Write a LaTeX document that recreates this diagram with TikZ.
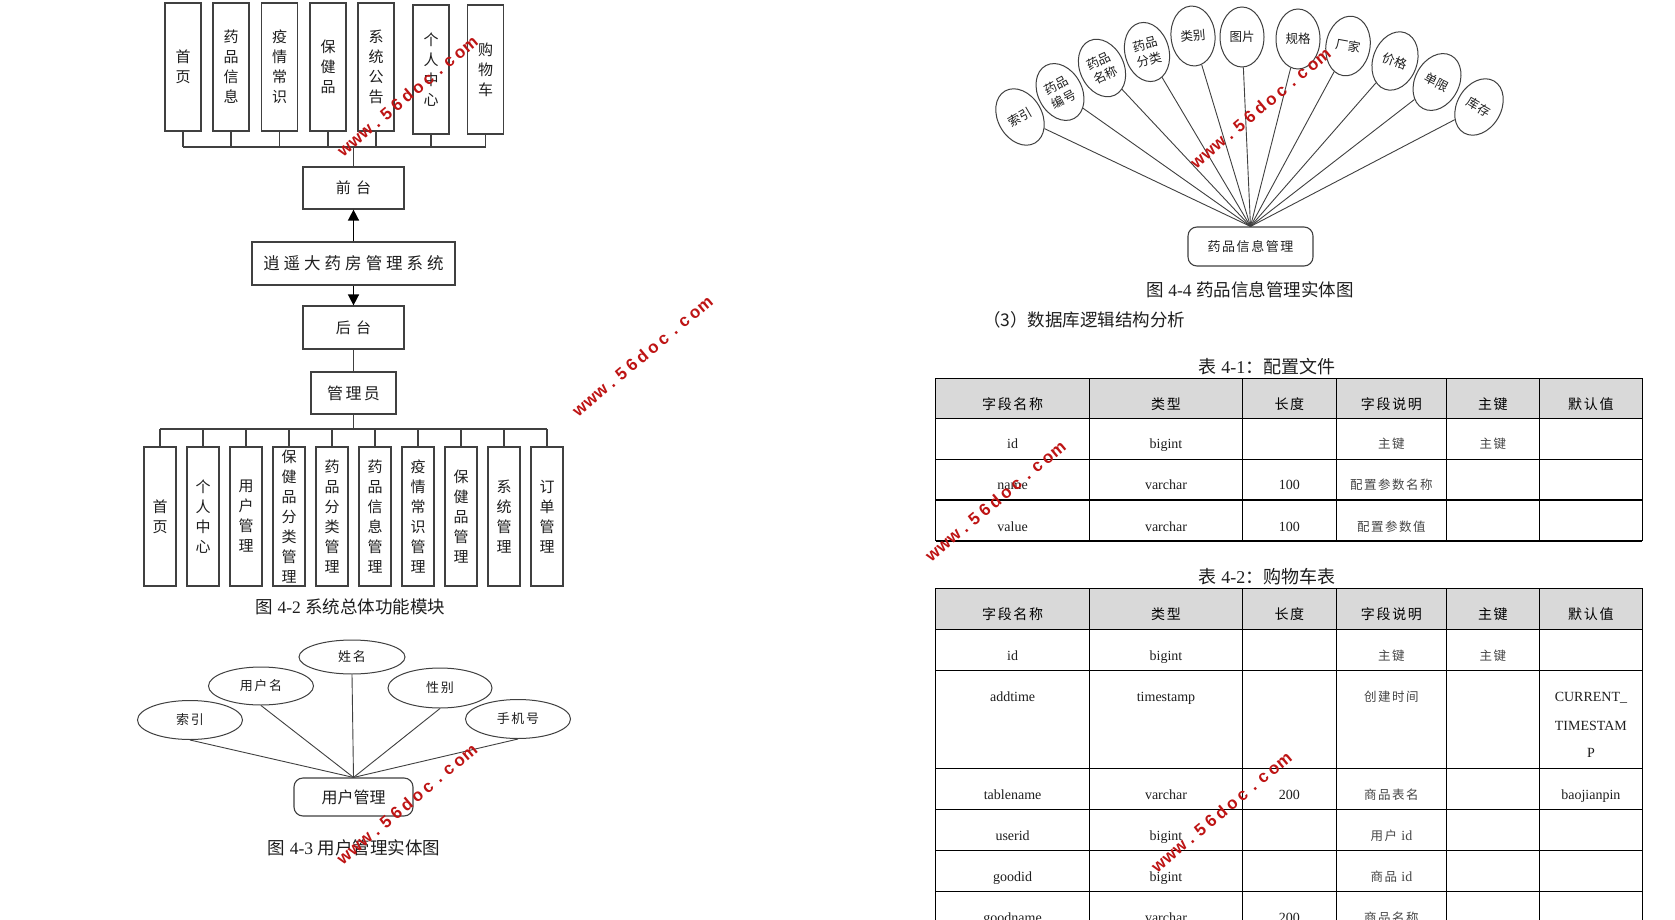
\documentclass[tikz,border=0pt]{standalone}
\usepackage{fontspec}
\setmainfont{Liberation Serif}
\newfontfamily\cjk{Noto Sans CJK SC}
\newfontfamily\cjkls[LetterSpace=12]{Noto Sans CJK SC}
\newfontfamily\cjkwide[LetterSpace=35]{Noto Sans CJK SC}
\newfontfamily\wmfont{Liberation Sans}
\usetikzlibrary{shapes.geometric,arrows.meta}
\definecolor{boxc}{RGB}{64,64,64}
\definecolor{txt}{RGB}{30,30,30}
\definecolor{hdr}{RGB}{217,217,217}
\definecolor{wmred}{RGB}{190,20,20}
\definecolor{celltxt}{RGB}{70,70,70}
\newcommand\fsz[2]{\fontsize{#1}{#2}\selectfont}
\newcommand\wmc[1]{\makebox[13.6pt]{#1}}
\newcommand\wmtext{\wmc{w}\wmc{w}\wmc{w}\wmc{.}\wmc{5}\wmc{6}\wmc{d}\wmc{o}\wmc{c}\wmc{.}\wmc{c}\wmc{o}\wmc{m}}
\begin{document}
\begin{tikzpicture}[x=1pt,y=-1pt,
 vbox/.style={draw=boxc,line width=1.2pt,inner sep=0pt,align=center,text=txt,font=\cjk\fsz{15}{20}},
 hbox/.style={draw=boxc,line width=1.2pt,inner sep=0pt,text=txt,font=\cjkwide\fsz{15}{18}},
 bus/.style={draw=boxc,line width=1.2pt},
 arr/.style={draw=black,line width=1.5pt,-{Triangle[length=11pt,width=11pt]}},
 ell/.style={ellipse,draw=boxc,line width=1pt,inner sep=0pt,text=txt,font=\cjkls\fsz{13}{15}},
 ell2/.style={ellipse,draw=boxc,line width=1pt,inner sep=0pt,minimum width=44pt,minimum height=60pt,align=center,text=txt,font=\cjk\fsz{12.5}{16}},
 rbox/.style={draw=boxc,line width=1.1pt,rounded corners=9pt,inner sep=0pt,text=txt},
 link/.style={draw=boxc,line width=0.9pt},
 figcap/.style={text=txt,font=\fsz{17.5}{20},inner sep=0pt},
 hcell/.style={text=black,font=\cjkls\fsz{14}{16},inner sep=0pt,text height=10pt,text depth=2pt},
 lcell/.style={text=txt,font=\fsz{14}{16},inner sep=0pt,text height=10pt,text depth=2pt},
 ccell/.style={text=celltxt,font=\cjkls\fsz{12.5}{14},inner sep=0pt,text height=10pt,text depth=2pt},
 tline/.style={draw=black,line width=1.3pt},
 wm/.style={text=wmred,font=\wmfont\bfseries\fsz{17}{17},rotate=40,inner sep=0pt}
]
\fill[white] (0,0) rectangle (1675,920);
\useasboundingbox (0,0) rectangle (1675,920);

% ---------- Fig 4-2 top row ----------
\node[vbox,minimum width=36pt,minimum height=128pt] (t1) at (183,67) {首\\页};
\node[vbox,minimum width=36pt,minimum height=128pt] (t2) at (231,67) {药\\品\\信\\息};
\node[vbox,minimum width=36pt,minimum height=128pt] (t3) at (279.5,67) {疫\\情\\常\\识};
\node[vbox,minimum width=36pt,minimum height=128pt] (t4) at (328,67) {保\\健\\品};
\node[vbox,minimum width=36pt,minimum height=128pt] (t5) at (376,67) {系\\统\\公\\告};
\node[vbox,minimum width=36pt,minimum height=129pt] (t6) at (431,69.5) {个\\人\\中\\心};
\node[vbox,minimum width=36pt,minimum height=129pt] (t7) at (485.5,69.5) {购\\物\\车};
\coordinate (tb) at (353.5,147);
\foreach \n in {t1,t2,t3,t4,t5,t6,t7} \draw[bus] (\n.south) -- (\n.south |- tb);
\draw[bus] (t1.south |- tb) -- (t7.south |- tb);

\node[hbox,minimum width=101pt,minimum height=42pt] (qt) at (353.5,188) {前台};
\node[hbox,minimum width=203pt,minimum height=43pt,font=\cjk\fsz{16.5}{18}] (sys) at (353.5,263.5) {逍\hspace{4pt}遥\hspace{4pt}大\hspace{4pt}药\hspace{4pt}房\hspace{4pt}管\hspace{4pt}理\hspace{4pt}系\hspace{4pt}统};
\node[hbox,minimum width=101pt,minimum height=43pt] (ht) at (353.5,327.5) {后台};
\node[hbox,minimum width=85pt,minimum height=42pt,font=\cjk\fsz{16}{18}] (gly) at (353.5,393) {管\hspace{2.5pt}理\hspace{2.5pt}员};
\draw[bus] (tb) -- (qt.north);
\draw[arr] (sys.north) -- (qt.south);
\draw[arr] (sys.south) -- (ht.north);
\draw[bus] (ht.south) -- (gly.north);

% ---------- bottom row ----------
\node[vbox,minimum width=32pt,minimum height=139pt] (b1) at (160,516.5) {首\\页};
\node[vbox,minimum width=32pt,minimum height=139pt] (b2) at (203,516.5) {个\\人\\中\\心};
\node[vbox,minimum width=32pt,minimum height=139pt] (b3) at (246,516.5) {用\\户\\管\\理};
\node[vbox,minimum width=32pt,minimum height=139pt] (b4) at (289,516.5) {保\\健\\品\\分\\类\\管\\理};
\node[vbox,minimum width=32pt,minimum height=139pt] (b5) at (332,516.5) {药\\品\\分\\类\\管\\理};
\node[vbox,minimum width=32pt,minimum height=139pt] (b6) at (375,516.5) {药\\品\\信\\息\\管\\理};
\node[vbox,minimum width=32pt,minimum height=139pt] (b7) at (418,516.5) {疫\\情\\常\\识\\管\\理};
\node[vbox,minimum width=32pt,minimum height=139pt] (b8) at (461,516.5) {保\\健\\品\\管\\理};
\node[vbox,minimum width=32pt,minimum height=139pt] (b9) at (504,516.5) {系\\统\\管\\理};
\node[vbox,minimum width=32pt,minimum height=139pt] (b10) at (547,516.5) {订\\单\\管\\理};
\coordinate (bb) at (353.5,429);
\draw[bus] (gly.south) -- (bb);
\draw[bus] (b1.north |- bb) -- (b10.north |- bb);
\foreach \n in {b1,b2,b3,b4,b5,b6,b7,b8,b9,b10} \draw[bus] (\n.north |- bb) -- (\n.north);

\node[figcap] (cap42) at (350.5,607) {{\cjk 图} 4-2 {\cjk 系统总体功能模块}};

% ---------- Fig 4-3 ----------
\node[ell,minimum width=106pt,minimum height=34pt] (xm) at (352,657) {姓名};
\node[ell,minimum width=105pt,minimum height=38pt] (yhm) at (261,686) {用户名};
\node[ell,minimum width=104pt,minimum height=40pt] (xb) at (440,688) {性别};
\node[ell,minimum width=105pt,minimum height=39pt] (sy) at (190,720) {索引};
\node[ell,minimum width=105pt,minimum height=39pt] (sjh) at (518,719) {手机号};
\node[rbox,minimum width=119pt,minimum height=38pt,font=\cjk\fsz{16}{18}] (yhgl) at (353.5,797) {用户管理};
\foreach \n in {sy,yhm,xm,xb,sjh} \draw[link] (\n.south) -- (yhgl.north);
\node[figcap] (cap43) at (354,848) {{\cjk 图} 4-3 {\cjk 用户管理实体图}};

% ---------- Fig 4-4 ----------
\node[rbox,minimum width=125pt,minimum height=39pt,font=\cjkls\fsz{13}{15}] (ypgl) at (1250.5,246.5) {药品信息管理};
\node[ell2,rotate=30] (e1) at (1020,117) {索引};
\node[ell2,rotate=28] (e2) at (1060,92) {药品\\编号};
\node[ell2,rotate=25] (e3) at (1102,68) {药品\\名称};
\node[ell2,rotate=15] (e4) at (1147,52) {药品\\分类};
\node[ell2,rotate=5] (e5) at (1193,36) {类别};
\node[ell2] (e6) at (1242,37) {图片};
\node[ell2] (e7) at (1298,39) {规格};
\node[ell2,rotate=-10] (e8) at (1348,46) {厂家};
\node[ell2,rotate=-20] (e9) at (1395,61) {价格};
\node[ell2,rotate=-28] (e10) at (1437,82) {单限};
\node[ell2,rotate=-30] (e11) at (1479,107) {库存};
\foreach \n in {e1,e2,e3,e4,e5,e6,e7,e8,e9,e10,e11} \draw[link] (ypgl.north) -- (\n);
\node[figcap] (cap44) at (1250,290) {{\cjk 图} 4-4 {\cjk 药品信息管理实体图}};
\node[figcap,anchor=west] (sec3) at (983,320) {\cjk （3）数据库逻辑结构分析};

% ---------- Tables ----------
\def\cxa{1012.6}\def\cxb{1166}\def\cxc{1289.4}\def\cxd{1391.4}\def\cxe{1492.9}\def\cxf{1590.9}
\node[figcap,font=\fsz{18}{20}] (cap41) at (1267,367) {{\cjk 表} 4-1{\cjk ：配置文件}};
\fill[hdr] (935.6,378.3) rectangle (1642.3,418.3);
\foreach \y in {378.3,418.3,459.3,500,541} \draw[tline] (935.6,\y) -- (1642.3,\y);
\foreach \x in {935.6,1089.7,1242.4,1336.4,1446.3,1539.4,1642.3} \draw[tline] (\x,378.3) -- (\x,541);
\node[hcell] (h1a) at (\cxa,405) {字段名称};
\node[hcell] (h1b) at (\cxb,405) {类型};
\node[hcell] (h1c) at (\cxc,405) {长度};
\node[hcell] (h1d) at (\cxd,405) {字段说明};
\node[hcell] (h1e) at (\cxe,405) {主键};
\node[hcell] (h1f) at (\cxf,405) {默认值};
\node[lcell] (r1a) at (\cxa,444) {id};
\node[lcell] (r1b) at (\cxb,444) {bigint};
\node[ccell] (r1d) at (\cxd,444) {主键};
\node[ccell] (r1e) at (\cxe,444) {主键};
\node[lcell] (r2a) at (\cxa,485) {name};
\node[lcell] (r2b) at (\cxb,485) {varchar};
\node[lcell] (r2c) at (\cxc,485) {100};
\node[ccell] (r2d) at (\cxd,485) {配置参数名称};
\node[lcell] (r3a) at (\cxa,527) {value};
\node[lcell] (r3b) at (\cxb,527) {varchar};
\node[lcell] (r3c) at (\cxc,527) {100};
\node[ccell] (r3d) at (\cxd,527) {配置参数值};

\node[figcap,font=\fsz{18}{20}] (cap42t) at (1267,577) {{\cjk 表} 4-2{\cjk ：购物车表}};
\fill[hdr] (935.6,588.3) rectangle (1642.3,629.3);
\foreach \y in {588.3,629.3,670.3,768.3,809.3,850.3,891.3} \draw[tline] (935.6,\y) -- (1642.3,\y);
\foreach \x in {935.6,1089.7,1242.4,1336.4,1446.3,1539.4,1642.3} \draw[tline] (\x,588.3) -- (\x,935);
\node[hcell] (h2a) at (\cxa,615) {字段名称};
\node[hcell] (h2b) at (\cxb,615) {类型};
\node[hcell] (h2c) at (\cxc,615) {长度};
\node[hcell] (h2d) at (\cxd,615) {字段说明};
\node[hcell] (h2e) at (\cxe,615) {主键};
\node[hcell] (h2f) at (\cxf,615) {默认值};
\node[lcell] (s1a) at (\cxa,656) {id};
\node[lcell] (s1b) at (\cxb,656) {bigint};
\node[ccell] (s1d) at (\cxd,656) {主键};
\node[ccell] (s1e) at (\cxe,656) {主键};
\node[lcell] (s2a) at (\cxa,697) {addtime};
\node[lcell] (s2b) at (\cxb,697) {timestamp};
\node[ccell] (s2d) at (\cxd,697) {创建时间};
\node[lcell] (s2f1) at (\cxf,697) {CURRENT\_};
\node[lcell] (s2f2) at (\cxf,726) {TIMESTAM};
\node[lcell] (s2f3) at (\cxf,753) {P};
\node[lcell] (s3a) at (\cxa,795) {tablename};
\node[lcell] (s3b) at (\cxb,795) {varchar};
\node[lcell] (s3c) at (\cxc,795) {200};
\node[ccell] (s3d) at (\cxd,795) {商品表名};
\node[lcell] (s3f) at (\cxf,795) {baojianpin};
\node[lcell] (s4a) at (\cxa,836) {userid};
\node[lcell] (s4b) at (\cxb,836) {bigint};
\node[ccell] (s4d) at (\cxd,836) {用户 {\rmfamily\fsz{14}{16}id}};
\node[lcell] (s5a) at (\cxa,877) {goodid};
\node[lcell] (s5b) at (\cxb,877) {bigint};
\node[ccell] (s5d) at (\cxd,877) {商品 {\rmfamily\fsz{14}{16}id}};
\node[lcell] (s6a) at (\cxa,918) {goodname};
\node[lcell] (s6b) at (\cxb,918) {varchar};
\node[lcell] (s6c) at (\cxc,918) {200};
\node[ccell] (s6d) at (\cxd,918) {商品名称};

% ---------- watermarks ----------
\node[wm] (w1) at (407,96) {\wmtext};
\node[wm] (w2) at (642,356) {\wmtext};
\node[wm] (w3) at (406.5,804) {\wmtext};
\node[wm] (w4) at (1260,108) {\wmtext};
\node[wm] (w5) at (995,501) {\wmtext};
\node[wm] (w6) at (1221,812) {\wmtext};
\end{tikzpicture}
\end{document}
